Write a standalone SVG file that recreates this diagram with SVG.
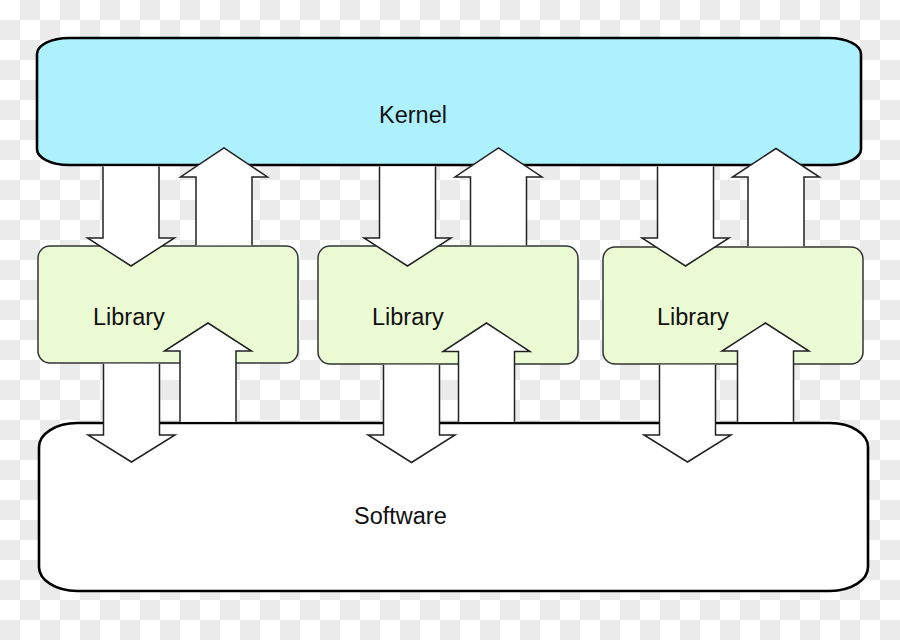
<svg xmlns="http://www.w3.org/2000/svg" width="900" height="640" viewBox="0 0 900 640">
<defs>
<pattern id="checker" width="40" height="40" patternUnits="userSpaceOnUse">
<rect width="40" height="40" fill="#ffffff"/>
<rect x="20" y="0" width="20" height="20" fill="#ebebeb"/>
<rect x="0" y="20" width="20" height="20" fill="#ebebeb"/>
</pattern>
<style>
.lbl{font-family:"Liberation Sans",Arial,sans-serif;font-size:23.5px;fill:#111}
.big{stroke:#000;stroke-width:2.6}
.lib{fill:#ebfcd5;stroke:#333;stroke-width:1.5}
.arr{fill:#fff;stroke:#222;stroke-width:1.5;stroke-linejoin:miter}
</style>
</defs>
<rect width="900" height="640" fill="url(#checker)"/>

<g id="kernel">
<rect class="big" x="37" y="38" width="824" height="127" rx="32" ry="16" fill="#adf1fe"/>
<text class="lbl" x="379" y="123">Kernel</text>
</g>

<g id="software">
<rect class="big" x="39" y="423" width="829" height="168" rx="38" ry="24" fill="#ffffff"/>
<text class="lbl" x="354" y="524">Software</text>
</g>

<g id="library1">
<rect class="lib" x="38" y="246" width="260" height="117" rx="12" ry="12"/>
<text class="lbl" x="93" y="325">Library</text>
</g>
<g id="library2">
<rect class="lib" x="318" y="246" width="260" height="118" rx="12" ry="12"/>
<text class="lbl" x="372" y="325">Library</text>
</g>
<g id="library3">
<rect class="lib" x="603" y="247" width="260" height="117" rx="12" ry="12"/>
<text class="lbl" x="657" y="325">Library</text>
</g>

<g id="connectors">
<!-- kernel to library (down) -->
<path class="arr" d="M103,166.5 L103,238 L87.5,238 L131,266 L174.5,238 L159,238 L159,166.5"/>
<path class="arr" d="M379.5,166.5 L379.5,238 L364,238 L407.5,266 L451,238 L435.5,238 L435.5,166.5"/>
<path class="arr" d="M657.5,166.5 L657.5,238 L642,238 L685.5,266 L729,238 L713.5,238 L713.5,166.5"/>
<!-- library to kernel (up) -->
<path class="arr" d="M196,245.3 L196,177 L180.5,177 L224,148 L267.5,177 L252,177 L252,245.3"/>
<path class="arr" d="M470.5,245.3 L470.5,177 L455,177 L498.5,148 L542,177 L526.5,177 L526.5,245.3"/>
<path class="arr" d="M748,246.3 L748,177 L732.5,177 L776,148.5 L819.5,177 L804,177 L804,246.3"/>
<!-- library to software (down) -->
<path class="arr" d="M103.5,363.8 L103.5,435 L88,435 L131.5,462 L175,435 L159.5,435 L159.5,363.8"/>
<path class="arr" d="M383.5,364.8 L383.5,435 L368,435 L411.5,462.5 L455,435 L439.5,435 L439.5,364.8"/>
<path class="arr" d="M659.5,364.8 L659.5,435 L644,435 L687.5,462 L731,435 L715.5,435 L715.5,364.8"/>
<!-- software to library (up) -->
<path class="arr" d="M180,421.7 L180,351 L164.5,351 L208,323 L251.5,351 L236,351 L236,421.7"/>
<path class="arr" d="M458.5,421.7 L458.5,351.5 L443,351.5 L486.5,323 L530,351.5 L514.5,351.5 L514.5,421.7"/>
<path class="arr" d="M737.5,421.7 L737.5,351 L722,351 L765.5,323 L809,351 L793.5,351 L793.5,421.7"/>
</g>
</svg>
